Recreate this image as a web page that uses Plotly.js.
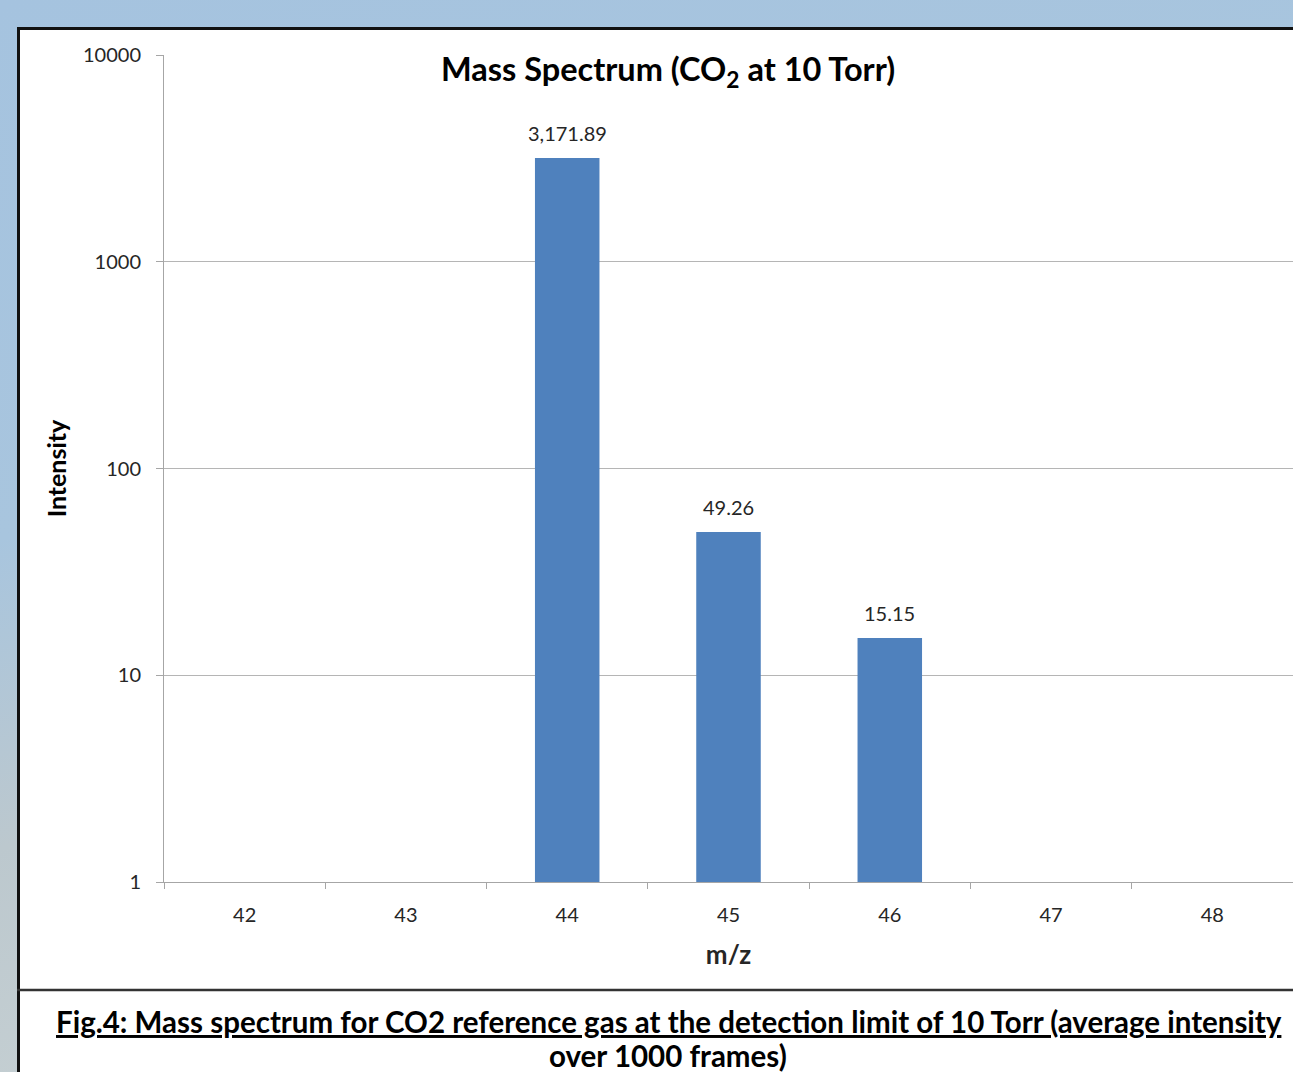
<!DOCTYPE html>
<html>
<head>
<meta charset="utf-8">
<script src="https://cdn.plot.ly/plotly-3.0.1.min.js"></script>
<style>
  html, body { margin: 0; padding: 0; width: 1293px; height: 1072px; overflow: hidden; }
  body { background: linear-gradient(160deg, #a5c3df 0%, #a8c5de 35%, #bcc8ce 55%, #c6d0d3 75%, #c9d2d4 100%); position: relative; }
  #box { position: absolute; left: 17px; top: 27px; width: 1300px; height: 1100px; background: #ffffff; border-left: 3px solid #111; border-top: 3px solid #111; box-sizing: border-box; }
  #chart { position: absolute; left: 0; top: 0; width: 1293px; height: 1072px; }
</style>
</head>
<body>
<div id="box"></div>
<div id="chart"></div>
<script>
const categories = ["42", "43", "44", "45", "46", "47", "48"];
const intensity = [null, null, 3171.89, 49.26, 15.15, null, null];
const yTickVals = [1, 10, 100, 1000, 10000];
const yTickText = ["1", "10", "100", "1000", "10000"];
const chartTitle = "Mass Spectrum (CO<sub>2</sub> at 10 Torr)";
const xTitle = "m/z";
const yTitle = "Intensity";
const captionLine1 = "Fig.4: Mass spectrum for CO2 reference gas at the detection limit of 10 Torr (average intensity";
const captionLine2 = "over 1000 frames)";

const W = 1293, H = 1072;
const FONT = "Lato, 'Open Sans', sans-serif";
const plotL = 164, plotR = 0, plotT = 55, plotB = 190;
const plotW = W - plotL - plotR, plotH = H - plotT - plotB;
const px = x => (x - plotL) / plotW;
const py = y => (H - plotB - y) / plotH;

const trace = {
  type: "bar",
  x: categories,
  y: intensity,
  width: 0.4,
  marker: { color: "#4f81bd", line: { width: 0 } },
  hoverinfo: "x+y"
};

// data labels built from the data arrays, placed through the axes
// (category axis: x given as the category's index; log axis: y given as log10 of the value)
const valueLabels = [];
categories.forEach((c, i) => {
  const v = intensity[i];
  if (v === null || v === undefined) return;
  valueLabels.push({
    xref: "x", yref: "y", x: i, y: Math.log10(v),
    xanchor: "center", yanchor: "bottom", yshift: 11,
    showarrow: false,
    text: v.toLocaleString("en-US", { minimumFractionDigits: 2, maximumFractionDigits: 2 }),
    font: { family: FONT, size: 20, color: "#262626" }
  });
});

const layout = {
  width: W, height: H,
  paper_bgcolor: "rgba(0,0,0,0)",
  plot_bgcolor: "#ffffff",
  margin: { l: plotL, r: plotR, t: plotT, b: plotB, pad: 0 },
  showlegend: false,
  font: { family: FONT, color: "#262626" },
  title: {
    text: "<b>" + chartTitle + "</b>",
    font: { family: FONT, size: 32.5, color: "#000000" },
    xref: "container", x: 668 / W, xanchor: "center",
    yref: "container", y: 1 - 70 / H, yanchor: "middle"
  },
  xaxis: {
    type: "category",
    categoryorder: "array",
    categoryarray: categories,
    range: [-0.5, 6.5],
    tickson: "boundaries",
    ticks: "outside", ticklen: 6, tickcolor: "#a6a6a6", tickwidth: 1,
    showline: true, linecolor: "#a6a6a6", linewidth: 1,
    showgrid: false, zeroline: false,
    tickfont: { family: FONT, size: 20, color: "#262626" },
    ticklabelstandoff: 15,
    title: { text: "<b>" + xTitle + "</b>", font: { family: FONT, size: 26, color: "#262626" }, standoff: 20 }
  },
  yaxis: {
    type: "log",
    range: [0, 4],
    tickvals: yTickVals,
    ticktext: yTickText,
    ticks: "outside", ticklen: 7, tickcolor: "#a6a6a6", tickwidth: 1,
    showline: true, linecolor: "#a6a6a6", linewidth: 1,
    showgrid: true, gridcolor: "#b5b5b5", gridwidth: 1,
    zeroline: false,
    tickfont: { family: FONT, size: 20, color: "#262626" },
    ticklabelstandoff: 11,
    title: { text: "<b>" + yTitle + "</b>", font: { family: FONT, size: 25, color: "#000000" }, standoff: 9 }
  },
  shapes: [
    { type: "line", xref: "paper", yref: "paper", x0: px(17), x1: px(W + 5), y0: py(990), y1: py(990),
      line: { color: "#333333", width: 2.5 } }
  ],
  annotations: valueLabels.concat([
    { xref: "paper", yref: "paper", x: px(669), y: py(1021), xanchor: "center", yanchor: "middle",
      showarrow: false, text: "<b>" + captionLine1 + "</b>",
      font: { family: FONT, size: 29.5, color: "#000000", lineposition: "under" } },
    { xref: "paper", yref: "paper", x: px(668), y: py(1055), xanchor: "center", yanchor: "middle",
      showarrow: false, text: "<b>" + captionLine2 + "</b>",
      font: { family: FONT, size: 29.5, color: "#000000" } }
  ]),
  bargap: 0.6
};

Plotly.newPlot("chart", [trace], layout, { displayModeBar: false, staticPlot: true });
</script>
</body>
</html>
